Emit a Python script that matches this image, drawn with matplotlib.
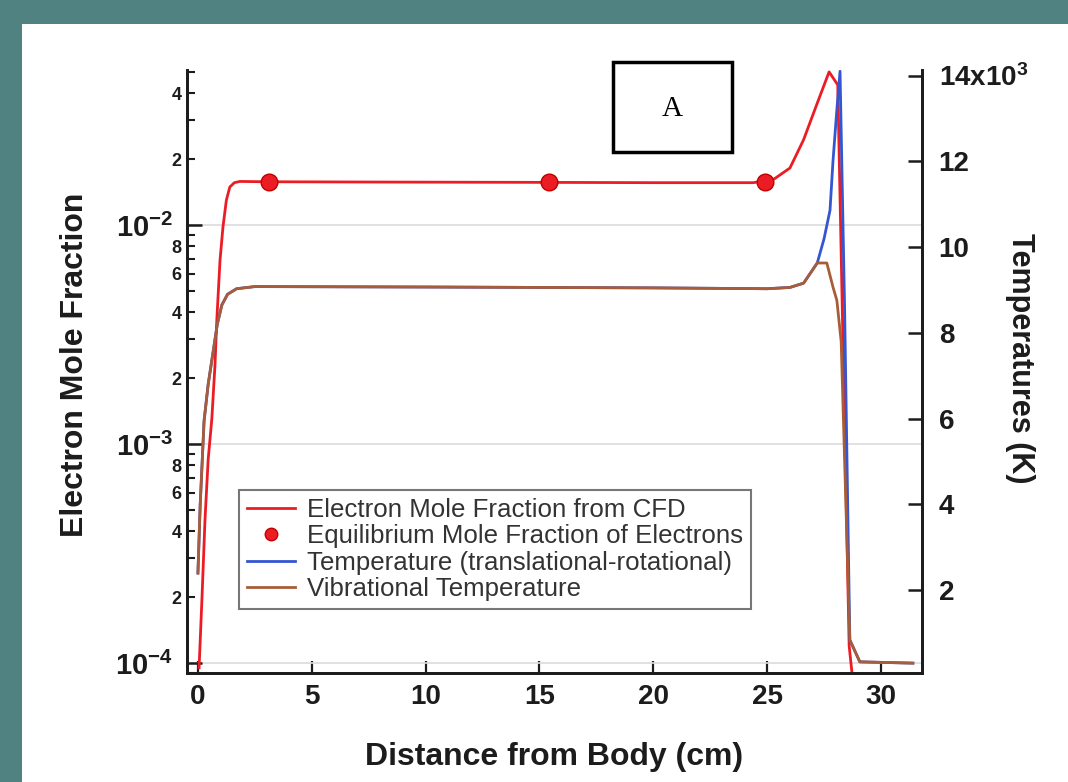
import matplotlib
matplotlib.use("Agg")
import matplotlib.pyplot as plt
from matplotlib.patches import Rectangle
from matplotlib.ticker import LogLocator, FixedLocator, FuncFormatter
import numpy as np

plt.rcParams['font.family'] = ['Liberation Sans', 'DejaVu Sans']
plt.rcParams['mathtext.fontset'] = 'custom'
plt.rcParams['mathtext.rm'] = 'Liberation Sans:bold'
plt.rcParams['mathtext.bf'] = 'Liberation Sans:bold'
plt.rcParams['mathtext.default'] = 'bf'

# --- data ---
# electron mole fraction from CFD (left, log axis)
x_cfd = [0.05, 0.18, 0.31, 0.45, 0.61, 0.75, 0.83, 0.97, 1.1, 1.25, 1.4, 1.6, 1.84,
         3.0, 8.0, 15.0, 20.0, 24.4, 25.3, 26.0, 26.6, 27.2, 27.72, 28.1, 28.6, 28.75]
y_cfd = [9.5e-5, 2.0e-4, 4.5e-4, 8.5e-4, 1.3e-3, 2.3e-3, 3.7e-3, 6.9e-3, 9.8e-3, 1.3e-2,
         1.49e-2, 1.56e-2, 1.58e-2, 1.575e-2, 1.57e-2, 1.565e-2, 1.56e-2, 1.56e-2,
         1.62e-2, 1.82e-2, 2.45e-2, 3.6e-2, 5.0e-2, 4.36e-2, 1.2e-4, 8.5e-5]

# equilibrium mole fraction of electrons
x_eq = [3.1, 15.4, 24.9]
y_eq = [1.57e-2, 1.57e-2, 1.57e-2]

# translational-rotational temperature (K), right axis
x_trans = [0.0, 0.1, 0.27, 0.45, 0.65, 0.85, 1.05, 1.3, 1.7, 2.5, 10.0, 20.0, 25.0,
           26.0, 26.6, 27.2, 27.5, 27.76, 27.89, 28.06, 28.2, 28.4, 28.63, 29.07, 31.4]
T_trans = [2400, 4000, 5950, 6800, 7500, 8200, 8650, 8900, 9030, 9080, 9070, 9050, 9030,
           9060, 9160, 9630, 10200, 10860, 12000, 13200, 14100, 8600, 840, 330, 300]

# vibrational temperature (K)
x_vib = [0.0, 0.1, 0.27, 0.45, 0.65, 0.85, 1.05, 1.3, 1.7, 2.5, 10.0, 20.0, 25.0,
         26.0, 26.6, 27.2, 27.62, 27.89, 28.06, 28.25, 28.63, 29.07, 31.4]
T_vib = [2400, 4000, 5950, 6800, 7500, 8200, 8650, 8900, 9030, 9080, 9070, 9050, 9030,
         9060, 9160, 9630, 9630, 9070, 8760, 7800, 840, 330, 300]

x_ticks = [0, 5, 10, 15, 20, 25, 30]
T_ticks = [2000, 4000, 6000, 8000, 10000, 12000, 14000]

teal = '#508282'
red = '#ec1c24'
blue = '#3456d0'
brown = '#a85c38'
ink = '#1c1c1c'

fig = plt.figure(figsize=(10.68, 7.82), dpi=100, facecolor=teal)
fig.patches.append(Rectangle((22 / 1068, 0), 1, 758 / 782, transform=fig.transFigure,
                             facecolor='white', edgecolor='none', zorder=-5))

ax = fig.add_axes([187 / 1068, 1 - 673 / 782, 735 / 1068, 603 / 782])
ax2 = ax.twinx()

ax.set_yscale('log')
ax.set_xlim(-0.48, 31.8)
ax.set_ylim(9.0e-5, 5.1e-2)
ax2.set_ylim(70, 14130)

ax.set_axisbelow(True)
ax.yaxis.grid(True, which='major', color='#dcdcdc', lw=1.2)

l_cfd, = ax.plot(x_cfd, y_cfd, color=red, lw=2.0, zorder=3)
l_eq, = ax.plot(x_eq, y_eq, 'o', color=red, markersize=12, markeredgecolor='#c00000',
                markeredgewidth=1, zorder=4)
l_tr, = ax2.plot(x_trans, T_trans, color=blue, lw=2.0)
l_vib, = ax2.plot(x_vib, T_vib, color=brown, lw=2.0)

# left log axis ticks
ax.yaxis.set_major_locator(LogLocator(base=10))
ax.yaxis.set_major_formatter(FuncFormatter(lambda v, p: r'10$^{-%d}$' % round(-np.log10(v))))
ax.yaxis.set_minor_locator(LogLocator(base=10, subs=np.arange(2, 10)))


def minor_label(v, pos):
    m = int(round(v / 10 ** np.floor(np.log10(v) + 1e-9)))
    return str(m) if m in (2, 4, 6, 8) else ''


ax.yaxis.set_minor_formatter(FuncFormatter(minor_label))

ax.xaxis.set_major_locator(FixedLocator(x_ticks))
ax2.yaxis.set_major_locator(FixedLocator(T_ticks))
ax2.yaxis.set_major_formatter(FuncFormatter(
    lambda v, p: r'14x10$^{3}$' if v == 14000 else '%d' % (v / 1000)))

ax.tick_params(axis='y', which='major', direction='in', length=11, width=1.8, pad=10,
               labelsize=21, colors=ink)
ax.tick_params(axis='y', which='minor', direction='in', length=5.5, width=1.5, pad=4,
               labelsize=13, colors=ink)
ax.tick_params(axis='x', direction='in', length=9, width=1.6, pad=8, labelsize=20,
               colors=ink)
ax2.tick_params(axis='y', direction='in', length=10, width=1.8, pad=12, labelsize=20,
                colors=ink)
for lab in ax.get_xticklabels() + ax.get_yticklabels(which='both') + ax2.get_yticklabels():
    lab.set_fontweight('bold')

for a in (ax, ax2):
    a.spines['top'].set_visible(False)
    for s in ('left', 'right', 'bottom'):
        a.spines[s].set_linewidth(2.0)
        a.spines[s].set_color(ink)

ax.set_xlabel('Distance from Body (cm)', fontsize=23, fontweight='bold', color=ink)
ax.xaxis.set_label_coords(0.5, -0.139)
ax.xaxis.label.set_va('center')
ax.set_ylabel('Electron Mole Fraction', fontsize=23, fontweight='bold', color=ink)
ax.yaxis.set_label_coords(-0.152, 0.511)
ax.yaxis.label.set_va('center')
ax2.set_ylabel('Temperatures (K)', fontsize=22, fontweight='bold', color=ink, rotation=270)
ax2.yaxis.set_label_coords(1.133, 0.522)
ax2.yaxis.label.set_va('center')

leg = ax2.legend([l_cfd, l_eq, l_tr, l_vib],
                 ['Electron Mole Fraction from CFD',
                  'Equilibrium Mole Fraction of Electrons',
                  'Temperature (translational-rotational)',
                  'Vibrational Temperature'],
                 loc='lower left', bbox_to_anchor=(0.0707, 0.106), borderaxespad=0,
                 fontsize=18.6, fancybox=False, edgecolor='#777777', framealpha=1,
                 labelspacing=0.1, handlelength=1.85, handletextpad=0.5,
                 borderpad=0.3, markerscale=0.75)
leg.get_frame().set_linewidth(1.5)
for t in leg.get_texts():
    t.set_color('#333333')

# boxed panel tag
fig.add_artist(Rectangle((613 / 1068, 1 - 152 / 782), 119 / 1068, 90 / 782,
                         transform=fig.transFigure, facecolor='white', edgecolor='black',
                         lw=2.5, zorder=10))
fig.text(672 / 1068, 1 - 109 / 782, 'A', family='Liberation Serif', fontsize=21,
         ha='center', va='center', zorder=11)

fig.savefig('out.png', dpi=100, facecolor=teal)
